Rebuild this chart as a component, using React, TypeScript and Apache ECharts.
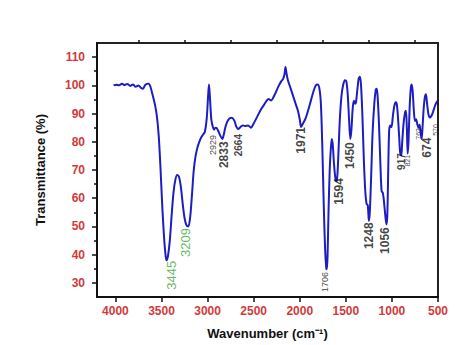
import React, { useEffect, useRef } from "react";
import * as echarts from "echarts";

// Spectrum (wavenumber cm-1, transmittance %)
const wavenumbers = [
  4020, 3990, 3960, 3930, 3900, 3870, 3840, 3810, 3780, 3750, 3720, 3700, 3680, 3660, 3640, 3620,
  3600, 3570, 3550, 3530, 3510, 3490, 3470, 3455, 3445, 3430, 3410, 3390, 3370, 3350, 3330, 3310,
  3290, 3270, 3250, 3230, 3209, 3190, 3170, 3150, 3130, 3110, 3090, 3070, 3050, 3030, 3010, 2995,
  2985, 2975, 2960, 2945, 2930, 2915, 2900, 2880, 2860, 2840, 2825, 2800, 2770, 2740, 2710, 2690,
  2670, 2650, 2620, 2595, 2560, 2530, 2500, 2460, 2420, 2390, 2360, 2340, 2310, 2290, 2260, 2230,
  2200, 2180, 2165, 2155, 2145, 2130, 2100, 2070, 2040, 2020, 2000, 1985, 1965, 1940, 1910, 1880,
  1850, 1825, 1805, 1785, 1770, 1755, 1740, 1725, 1712, 1706, 1698, 1688, 1675, 1662, 1652, 1642,
  1630, 1615, 1600, 1590, 1578, 1565, 1548, 1530, 1510, 1495, 1480, 1465, 1452, 1440, 1425, 1412,
  1400, 1390, 1375, 1360, 1348, 1335, 1320, 1305, 1290, 1275, 1262, 1250, 1240, 1225, 1210, 1190,
  1175, 1165, 1155, 1140, 1125, 1112, 1100, 1090, 1075, 1060, 1050, 1040, 1030, 1018, 1005, 990,
  975, 960, 948, 935, 920, 910, 898, 890, 875, 860, 848, 838, 829, 820, 808, 795,
  786, 775, 762, 750, 738, 725, 712, 700, 690, 678, 668, 655, 642, 631, 620, 605,
  590, 575, 560, 545, 530, 515, 505,
];
const transmittance = [
  100.0, 100.2, 100.0, 100.6, 100.1, 100.5, 99.8, 100.3, 99.5, 99.9, 99.0, 98.8, 100.0, 100.5, 100.6, 99.5,
  97.0, 93.0, 89.0, 82.0, 70.0, 56.0, 45.0, 39.5, 38.0, 39.5, 45.0, 54.0, 62.0, 66.5, 68.2, 67.5,
  64.0, 58.0, 53.0, 50.5, 50.0, 53.0, 61.0, 70.0, 75.0, 78.0, 80.0, 81.5, 82.5, 83.5, 88.0, 96.0,
  100.3, 96.0, 88.0, 85.5, 84.3, 85.0, 84.8, 83.5, 82.0, 81.0, 82.5, 86.0, 88.0, 88.5, 87.5, 85.5,
  84.5, 85.0, 85.8, 85.6, 85.8, 85.0, 86.5, 89.0, 91.5, 93.0, 94.5, 95.2, 94.6, 95.5, 97.5, 99.7,
  101.5, 102.3, 104.0, 106.5, 104.5, 102.0, 99.0, 96.0, 93.0, 91.0, 88.0, 85.2, 86.5, 88.0, 91.0, 94.5,
  98.0, 100.0, 100.3, 98.5, 93.0, 78.0, 58.0, 42.0, 35.0, 34.8, 40.0, 55.0, 70.0, 78.0, 81.0, 79.0,
  73.0, 67.5, 66.0, 69.0, 78.0, 88.0, 96.0, 100.0, 101.8, 101.5, 97.0, 88.0, 81.0, 84.0, 92.0, 94.5,
  93.5, 94.0, 98.5, 102.5, 103.0, 100.0, 89.0, 74.0, 63.0, 58.0, 57.5, 52.0, 55.0, 68.0, 83.0, 94.0,
  98.5, 98.8, 96.0, 86.0, 72.0, 62.5, 62.0, 60.0, 55.0, 50.7, 54.0, 70.0, 84.0, 85.8, 85.2, 89.0,
  92.5, 94.0, 93.5, 89.0, 81.0, 76.0, 75.2, 79.0, 86.0, 90.0, 91.0, 85.0, 75.8, 80.0, 92.0, 99.0,
  100.3, 98.0, 91.0, 87.4, 88.0, 86.3, 85.0, 86.0, 83.5, 81.0, 85.0, 92.0, 96.0, 96.8, 94.0, 90.0,
  88.6, 89.0, 90.0, 91.5, 93.0, 94.0, 94.5,
];

// Axis ticks
const xMajorTicks = [500, 1000, 1500, 2000, 2500, 3000, 3500, 4000];
const xMinorTicks = [750, 1250, 1750, 2250, 2750, 3250, 3750];
const yMajorTicks = [30, 40, 50, 60, 70, 80, 90, 100, 110];
const yMinorTicks = [35, 45, 55, 65, 75, 85, 95, 105];

// Peak annotations: text, anchor wavenumber, anchor transmittance (label centre)
const greenLabelText = ["3445", "3209"];
const greenLabelWn = [3397, 3245];
const greenLabelT = [32.7, 44.3];

const bigLabelText = ["2833", "1971", "1594", "1450", "1248", "1056", "674"];
const bigLabelWn = [2822, 1990, 1571, 1455, 1249, 1075, 619];
const bigLabelT = [75.4, 80.5, 62.4, 75.1, 46.7, 45.0, 77.9];

const midLabelText = ["2664", "917"];
const midLabelWn = [2670, 891];
const midLabelT = [78.8, 73.0];

const thinLabelText = ["1706", "2929"];
const thinLabelWn = [1726, 2941];
const thinLabelT = [30.3, 78.9];

const tinyLabelText = ["821", "763", "570"];
const tinyLabelWn = [836, 717, 532];
const tinyLabelT = [73.3, 82.8, 84.2];

const FONT = "'Liberation Sans', Arial, sans-serif";
const RED = "#d23a3a";

function labelSeries(texts: string[], wns: number[], ts: number[], style: any) {
  return {
    type: "scatter",
    symbolSize: 0,
    silent: true,
    data: texts.map((t, i) => ({ value: [wns[i], ts[i]], name: t })),
    label: {
      show: true,
      position: "inside",
      rotate: 90,
      align: "center",
      verticalAlign: "middle",
      formatter: (p: any) => p.name,
      fontFamily: FONT,
      ...style,
    },
    z: 5,
  };
}

export default function App() {
  const ref = useRef<HTMLDivElement>(null);
  useEffect(() => {
    if (!ref.current) return;
    const chart = echarts.init(ref.current, null, { renderer: "svg" });
    const baseX = {
      type: "value",
      min: 500,
      max: 4200,
      inverse: true,
      splitLine: { show: false },
    };
    const baseY = {
      type: "value",
      min: 25,
      max: 115,
      splitLine: { show: false },
    };
    chart.setOption({
      animation: false,
      backgroundColor: "#ffffff",
      grid: {
        left: 97,
        right: 37,
        top: 43,
        bottom: 45,
        show: true,
        borderColor: "#222",
        borderWidth: 2,
        backgroundColor: "transparent",
      },
      xAxis: [
        {
          ...baseX,
          name: "Wavenumber (cm⁻¹)",
          nameLocation: "middle",
          nameGap: 30,
          nameTextStyle: { fontFamily: FONT, fontSize: 13, fontWeight: "bold", color: "#111" },
          axisLine: { show: true, lineStyle: { color: "#111", width: 2 } },
          axisTick: { show: true, length: 5, customValues: xMajorTicks, lineStyle: { color: "#111", width: 1.5 } },
          axisLabel: {
            customValues: xMajorTicks,
            formatter: (v: number) => String(v),
            margin: 8,
            fontFamily: FONT,
            fontSize: 12,
            fontWeight: "bold",
            color: RED,
          },
        },
        {
          ...baseX,
          axisLine: { show: false },
          axisTick: { show: true, length: 3, customValues: xMinorTicks, lineStyle: { color: "#111", width: 1.5 } },
          axisLabel: { show: false },
        },
      ],
      yAxis: [
        {
          ...baseY,
          name: "Transmittance (%)",
          nameLocation: "middle",
          nameGap: 50,
          nameTextStyle: { fontFamily: FONT, fontSize: 13, fontWeight: "bold", color: "#111" },
          axisLine: { show: true, lineStyle: { color: "#111", width: 2 } },
          axisTick: { show: true, length: 5, customValues: yMajorTicks, lineStyle: { color: "#111", width: 1.5 } },
          axisLabel: {
            customValues: yMajorTicks,
            formatter: (v: number) => String(v),
            margin: 12,
            fontFamily: FONT,
            fontSize: 12,
            fontWeight: "bold",
            color: RED,
          },
        },
        {
          ...baseY,
          position: "left",
          axisLine: { show: false },
          axisTick: { show: true, length: 3, customValues: yMinorTicks, lineStyle: { color: "#111", width: 1.5 } },
          axisLabel: { show: false },
        },
      ],
      series: [
        {
          type: "line",
          data: wavenumbers.map((w, i) => [w, transmittance[i]]),
          showSymbol: false,
          smooth: 0.3,
          lineStyle: { color: "#1d1dc4", width: 2 },
          z: 3,
        },
        labelSeries(greenLabelText, greenLabelWn, greenLabelT, { fontSize: 13, color: "#3aa43a" }),
        labelSeries(bigLabelText, bigLabelWn, bigLabelT, { fontSize: 12, fontWeight: "bold", color: "#111" }),
        labelSeries(midLabelText, midLabelWn, midLabelT, { fontSize: 10, fontWeight: "bold", color: "#111" }),
        labelSeries(thinLabelText, thinLabelWn, thinLabelT, { fontSize: 9, color: "#111" }),
        labelSeries(tinyLabelText, tinyLabelWn, tinyLabelT, { fontSize: 7, color: "#111" }),
      ],
    });
    return () => chart.dispose();
  }, []);
  return (
    <div
      ref={ref}
      style={{ position: "fixed", left: 0, top: 0, width: 475, height: 345, background: "#fff" }}
    />
  );
}
